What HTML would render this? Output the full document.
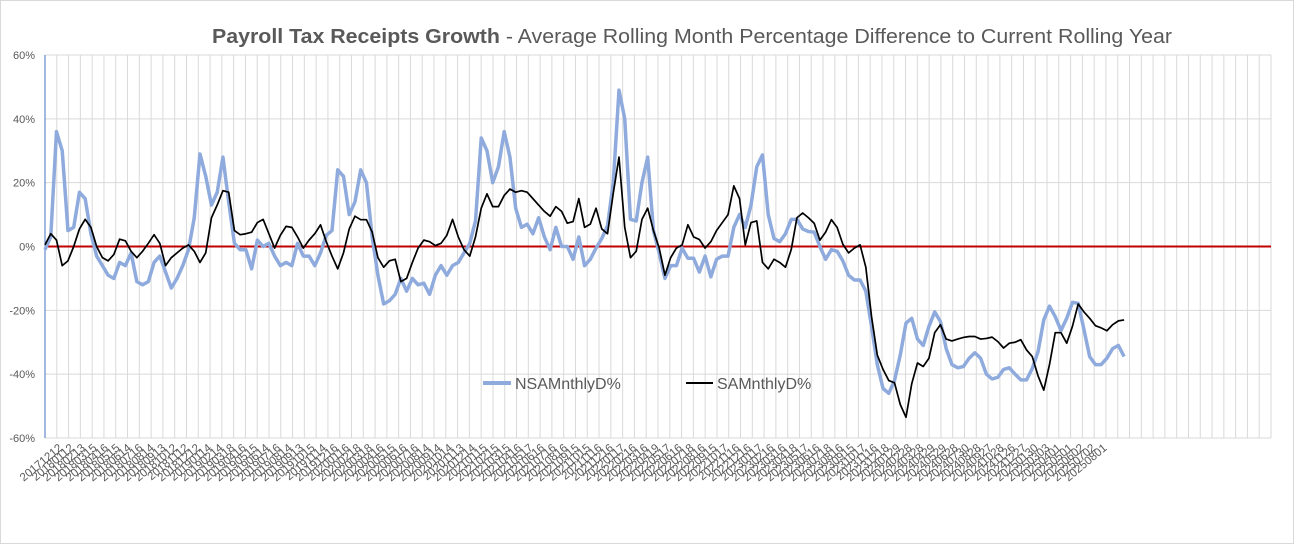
<!DOCTYPE html>
<html><head><meta charset="utf-8"><style>
body{margin:0;background:#fff;}
svg{display:block;font-family:"Liberation Sans",sans-serif;}
</style></head><body>
<svg id="chart" width="1294" height="544">
<rect x="0.5" y="0.5" width="1293" height="543" fill="#fff" stroke="#d9d9d9"/>
<text x="212" y="43" font-size="20" fill="#595959" textLength="960" lengthAdjust="spacingAndGlyphs"><tspan font-weight="bold">Payroll Tax Receipts Growth</tspan> - Average Rolling Month Percentage Difference to Current Rolling Year</text>
<g id="grid"></g><g id="ylab"></g><g id="xlab"></g><g id="series"></g>
<g>
<line x1="483" y1="383" x2="511" y2="383" stroke="#8faadc" stroke-width="4"/>
<text x="515" y="389" font-size="16" fill="#595959">NSAMnthlyD%</text>
<line x1="686" y1="383" x2="713" y2="383" stroke="#000" stroke-width="2"/>
<text x="717" y="389" font-size="16" fill="#595959">SAMnthlyD%</text>
</g>
</svg>
<script>
const yTicks=[60,40,20,0,-20,-40,-60];
const xLabels=["20171212","20180112","20180213","20180315","20180416","20180515","20180614","20180716","20180814","20180913","20181012","20181112","20181212","20190114","20190214","20190318","20190416","20190515","20190614","20190716","20190814","20190913","20191015","20191114","20191216","20200116","20200218","20200318","20200416","20200515","20200616","20200716","20200814","20200914","20201014","20201113","20201214","20210115","20210215","20210315","20210416","20210517","20210616","20210716","20210816","20210915","20211015","20211116","20211216","20220117","20220216","20220316","20220419","20220517","20220616","20220718","20220816","20220915","20221017","20221116","20221216","20230117","20230216","20230316","20230418","20230517","20230616","20230718","20230816","20230915","20231017","20231116","20231218","20240129","20240228","20240328","20240429","20240529","20240628","20240730","20240828","20240927","20241028","20241126","20241227","20250130","20250303","20250401","20250501","20250602","20250702","20250801"];
const nsaValues=[-1,3,36,30,5,6,17,15,4,-3,-6,-9,-10,-5,-6,-2,-11,-12,-11,-5,-3,-8,-13,-10,-6,-1,9,29,22,13,17,28,14,1,-1,-1,-7,2,0,1,-3,-6,-5,-6,1,-3,-3,-6,-2,
3.5,5,24,22,10,14,24,20,3,-9,-18,-17,-15,-10,-14,-10,-12,-11.5,-15,-9,-6,-9,-6,-5,-2,1,8,34,30,20,25,36,28,12,6,7,4,9,3,-1,6,0,0,-4,3,-6,-4,
-0.5,2.5,6.5,20,49,40,8.5,8,20,28,5,-2,-10,-6,-6,-0.5,-3.7,-3.7,-8,-3,-9.5,-4,-3,-3,6,10,6,13,25,28.7,10,2.5,1.5,4,8.5,8.5,5.5,4.7,4.5,0,-4,-1,-1.5,-4.5,-9,-10.5,-10.5,
-14,-25,-37,-44.5,-46,-42,-34,-24,-22.5,-29,-31,-25,-20.5,-23.5,-32,-37,-38,-37.6,-35,-33.3,-35,-40,-41.5,-41,-38.5,-38,-40,-41.8,-41.8,-38.2,-33,-23,-18.7,-22,-26.3,-22.5,-17.5,-17.8,-26,-34.5,-37,-37,-35,-32,-31,-34.5];
const saValues=[0.5,4,2,-6,-4.5,0,5.5,8.5,6,0,-3.5,-4.5,-2.5,2.3,1.8,-1.5,-3.5,-1.5,1,3.7,1,-6,-3.5,-2,-0.5,0.5,-1.5,-5,-2,9,13,17.5,17,5,3.7,4,4.5,7.5,8.5,4,-0.5,3.5,6.3,6,3,-0.5,2,4,6.8,
1.5,-3,-7,-2,5.5,9.5,8.4,8.4,4.5,-3.5,-6.5,-4.5,-4,-11,-10,-5,-0.5,2,1.5,0.3,1,3.5,8.5,3,-1,-3,3,12,16.5,12.5,12.5,16,18,17,17.5,17,15,13,11,9.5,12.5,11,7.3,7.8,15,6,7,
12,5.5,4,16.7,28,6,-3.5,-1.5,8.5,12,5,-0.5,-9,-3.5,-0.5,0.5,6.8,3,2.2,-0.5,1.5,5,7.5,10,19,15,0.5,7.5,8,-5,-7,-4,-5,-6.5,-1,9,10.5,9,7.3,2,4.5,8.4,6,0.7,-2,-0.5,0.5,
-6.5,-22,-34,-38.5,-42,-42.7,-49.5,-53.5,-43,-36.5,-37.6,-35,-27,-24.5,-29,-29.6,-29,-28.5,-28.2,-28.2,-29,-28.8,-28.4,-29.8,-31.8,-30.3,-30,-29.2,-32.4,-34.5,-40.5,-45,-37,-27,-27,-30.3,-25,-18,-20.5,-22.5,-24.8,-25.5,-26.4,-24.5,-23.3,-23];
const NS="http://www.w3.org/2000/svg";
const L=45,R=1271,T=55,B=438;
function yScale(v){return T+(60-v)/120*(B-T);}
function xScale(months){return L+months*11.48;}
function mk(tag,attrs,parent){const e=document.createElementNS(NS,tag);for(const k in attrs)e.setAttribute(k,attrs[k]);parent.appendChild(e);return e;}
const grid=document.getElementById('grid');
for(let i=0;i<=104;i++){const x=L+i*(R-L)/104;const ln=mk('line',{x1:x,x2:x,y1:T,y2:B,stroke:'#d9d9d9','stroke-width':1},grid);

}
const ylab=document.getElementById('ylab');
yTicks.forEach(v=>{const y=yScale(v);
if(v!==0){const g=mk('line',{x1:L,x2:R,y1:y,y2:y,stroke:'#d9d9d9','stroke-width':1},grid);

}
const t=mk('text',{x:35,y:y+4,'font-size':11,fill:'#595959','text-anchor':'end'},ylab);t.textContent=v+'%';

});
const ax=mk('line',{x1:L,x2:L,y1:T,y2:B,stroke:'#4472c4','stroke-width':1},grid);


const xlab=document.getElementById('xlab');
xLabels.forEach((s,i)=>{const x=xScale(i)+18,y=449;const t=mk('text',{x:x,y:y,'font-size':11.5,fill:'#595959','text-anchor':'end',transform:`rotate(-40 ${x} ${y})`},xlab);t.textContent=s;

});
const ser=document.getElementById('series');
const zl=mk('line',{x1:L,x2:R,y1:yScale(0),y2:yScale(0),stroke:'#c00000','stroke-width':2},ser);


function path(vals){return vals.map((v,k)=>(k?'L':'M')+xScale(k/2).toFixed(2)+','+yScale(v).toFixed(2)).join('');}
const p1=mk('path',{d:path(nsaValues),fill:'none',stroke:'#8faadc','stroke-width':3.5,'stroke-linejoin':'round'},ser);


const p2=mk('path',{d:path(saValues),fill:'none',stroke:'#000','stroke-width':1.7,'stroke-linejoin':'round'},ser);


</script>
</body></html>
